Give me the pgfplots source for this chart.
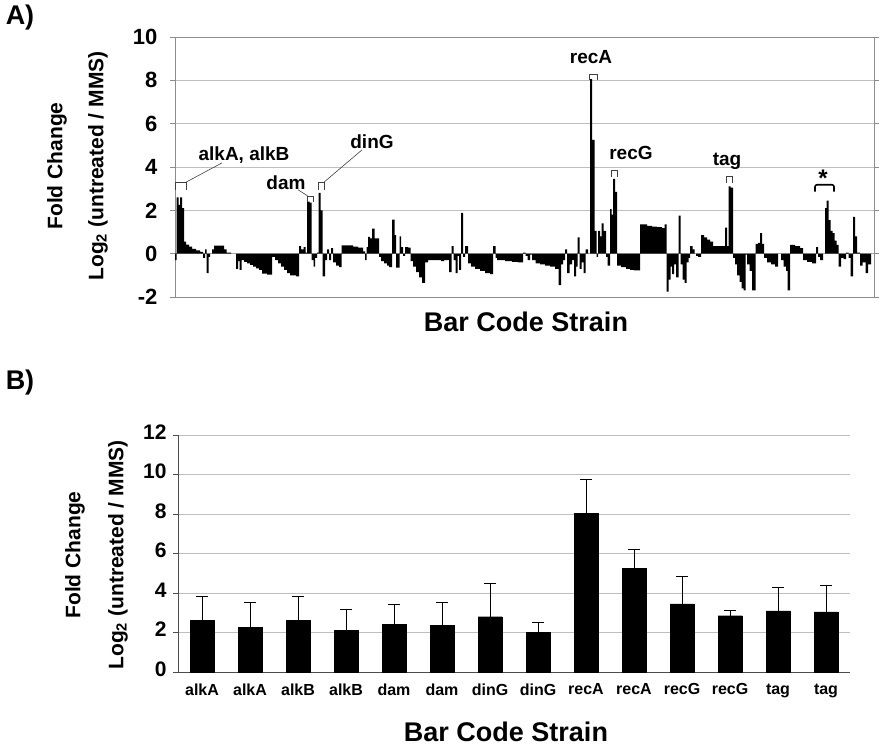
\documentclass[border=0pt]{standalone}
\usepackage{fontspec}
\setmainfont{Liberation Sans}
\usepackage{pgfplots}
\pgfplotsset{compat=1.18}
\definecolor{gridc}{RGB}{190,190,190}
\definecolor{boxc}{RGB}{140,140,140}
\newcommand{\fs}[1]{\fontsize{#1}{#1}\selectfont\bfseries}
\begin{document}
\begin{tikzpicture}[x=1pt,y=1pt]
\path[use as bounding box] (0,0) rectangle (882,753);
% ---------------- Panel A ----------------
\begin{axis}[
  scale only axis, width=699pt, height=260pt,
  at={(175pt,456pt)}, anchor=south west,
  xmin=175, xmax=874, ymin=-2, ymax=10,
  ytick={-2,0,2,4,6,8,10}, xtick=\empty,
  ymajorgrids, grid style={gridc, line width=0.8pt},
  axis line style={boxc, line width=0.8pt},
  tick style={boxc, line width=0.8pt}, tick align=outside, major tick length=5pt,
  /pgf/number format/assume math mode=true,
  yticklabel style={font=\fs{22}, xshift=-9pt},
  clip=false,
]
\addplot[ybar interval, fill=black, draw=none] coordinates {
(175,-0.3) (176.5,2.6) (178.5,2.25) (180,2.6) (182,2.1) (184,0.55) (186,0.42)
(189,0.32) (192,0.22) (196,0.15) (200,0.08) (203,-0.2) (205,0.2) (206.5,-0.9)
(208.5,-0.15) (210,0) (212,0.2) (214,0.37) (224,0.2) (226.5,0.05) (231,0)
(236,-0.7) (238,-0.35) (239.5,-0.75) (241.5,-0.3) (244,-0.38) (247,-0.45)
(250,-0.52) (253,-0.6) (256,-0.68) (259,-0.75) (262,-0.92) (267,-0.97)
(272,-0.15) (275,-0.3) (278,-0.45) (281,-0.6) (284,-0.75) (287,-0.9) (290,-1.0)
(296,-1.05) (299,0.35) (301,0.2) (303.5,0.3) (305.5,0.05) (307,2.4) (309.5,2.35)
(311.5,-0.3) (313.5,-0.6) (315,-0.2) (317,0.05) (318.5,2.8) (320.5,2.0)
(322.5,-1.05) (325,-0.3) (327,0.2) (329,-0.3) (331,0.25) (333,-0.4) (336,-0.55)
(339,-0.62) (341.5,0.38) (347,0.38) (353,0.32) (358,0.28) (363,0.1) (365,-0.3)
(366.5,0.3) (368,0.77) (370,0.7) (372,1.15) (374.5,0.7) (379,-0.15) (381,-0.35)
(384,-0.45) (387,-0.55) (389,-0.62) (392,1.57) (394.5,0.85) (396,-0.65)
(399.5,0.8) (401,0.3) (403,-0.1) (405,0.3) (408,0.28) (410.5,-0.35) (413,-0.6)
(416,-0.85) (419,-1.1) (422,-1.35) (425,-0.4) (428,-0.3) (441,-0.35) (444,-0.3)
(449,-0.85) (451.5,0.35) (453.5,-0.3) (455.5,-0.9) (457.5,-0.1) (459,-0.75)
(461,1.88) (463,-0.15) (465,0.35) (468,-0.45) (471,-0.6) (475,-0.7) (480,-0.8)
(485,-0.9) (490,-0.95) (493,0.35) (495.5,-0.2) (497,-0.3) (505,-0.35)
(512,-0.38) (518,-0.4) (523,0.05) (525.5,-0.1) (527.5,-0.3) (530,-0.05)
(532,-0.3) (535.5,-0.45) (540,-0.5) (545,-0.55) (550,-0.6) (555,-0.7)
(558.5,-1.45) (561,-0.5) (563,-0.3) (565,0.2) (567,-0.9) (569.5,-0.5) (572,-0.3)
(574,-1.05) (576,-0.6) (577.5,0.75) (579.5,-0.7) (581.5,-0.4) (583.5,-0.9)
(585.5,0.2) (588,0) (590,8.05) (592,5.25) (594.5,1.05) (596.5,-0.15) (598,1.05)
(600,0.8) (601.5,1.4) (603.5,1.05) (606,-0.15) (607.5,-0.55) (610,2.05)
(611.5,1.8) (613,3.45) (615,2.85) (617,-0.55) (621,-0.62) (626,-0.7) (630,-0.75)
(634,-0.77) (640,1.35) (647,1.28) (652,1.25) (657,1.22) (662,1.18) (664.5,1.35)
(666.5,-1.75) (668.5,-1.2) (670.5,-0.6) (672,-0.95) (674,-0.5) (676,-1.1)
(678.5,1.75) (680.5,-0.5) (682.5,-1.2) (684.5,-1.35) (686.5,-0.4) (688.5,-0.2)
(690,0.35) (692.5,0.2) (694.5,0) (696,-0.1) (698,-0.15) (701,0.85) (704,0.75)
(707,0.65) (710,0.55) (713,0.35) (725,1.2) (727,0.35) (728.5,3.1) (730.5,3.05)
(733,-0.2) (735,-0.5) (737,-1.0) (739.5,-1.3) (741.5,-1.6) (743.5,-1.7)
(745.5,-0.05) (747,-0.5) (749.5,-0.8) (752,-1.7) (755.5,0.45) (758,0.5)
(760,0.95) (762,0.45) (764,-0.2) (767,-0.4) (771,-0.5) (775,-0.6) (778,0)
(781,-0.3) (783.5,-0.6) (786,-0.8) (787.5,-1.7) (790,0.4) (795,0.35) (800,0.25)
(803,-0.3) (807,-0.38) (812,-0.45) (816,0.3) (818,-0.15) (820,-0.3) (823,0)
(825,2.1) (826.5,2.45) (828.5,1.55) (830.5,1.05) (832.5,0.95) (834.5,0.6)
(836.5,0.4) (838.5,-0.6) (841,-0.2) (843.5,-0.25) (846,0.05) (848.5,-0.2)
(850.5,-1.05) (853,1.7) (855,0.8) (857,0.05) (860,-0.55) (862.5,-0.4)
(865.5,-0.9) (868,-0.5) (871,0) (874,0)
};
% annotations
\node[font=\fs{19}] at (axis cs:244,4.56) {alkA, alkB};
\draw[black!75, line width=0.6pt] (axis cs:175.5,2.95) |- (axis cs:186,3.3) -- (axis cs:186,2.95);
\draw[black!75, line width=0.6pt] (axis cs:186,3.3) -- (axis cs:222,4.19);
\node[font=\fs{19}] at (axis cs:286,3.27) {dam};
\draw[black!75, line width=0.6pt] (axis cs:307,2.4) |- (axis cs:313,2.67) -- (axis cs:313,2.4);
\draw[black!75, line width=0.6pt] (axis cs:298,2.95) -- (axis cs:307.5,2.67);
\node[font=\fs{19}] at (axis cs:372,5.16) {dinG};
\draw[black!75, line width=0.6pt] (axis cs:318,2.95) |- (axis cs:324,3.3) -- (axis cs:324,2.95);
\draw[black!75, line width=0.6pt] (axis cs:324,3.3) -- (axis cs:362,4.79);
\node[font=\fs{19}] at (axis cs:591,9.08) {recA};
\draw[black!75, line width=0.6pt] (axis cs:589.5,8.0) |- (axis cs:597,8.3) -- (axis cs:597,8.0);
\node[font=\fs{19}] at (axis cs:631,4.65) {recG};
\draw[black!75, line width=0.6pt] (axis cs:611,3.55) |- (axis cs:617,3.87) -- (axis cs:617,3.55);
\node[font=\fs{19}] at (axis cs:727,4.24) {tag};
\draw[black!75, line width=0.6pt] (axis cs:726,3.27) |- (axis cs:732,3.55) -- (axis cs:732,3.27);
\node[font=\fs{24}] at (axis cs:823,3.5) {*};
\draw[black, line width=1.6pt, rounded corners=2pt] (axis cs:815,2.86) |- (axis cs:834,3.18) -- (axis cs:834,2.86);
\end{axis}
% ---------------- Panel B ----------------
\begin{axis}[
  scale only axis, width=672pt, height=237pt,
  at={(178pt,81pt)}, anchor=south west,
  xmin=-0.5, xmax=13.5, ymin=0, ymax=12,
  ytick={0,2,4,6,8,10,12},
  xtick={0,...,13},
  xticklabels={alkA,alkA,alkB,alkB,dam,dam,dinG,dinG,recA,recA,recG,recG,tag,tag},
  xtick style={draw=none},
  typeset ticklabels with strut,
  extra x ticks={-0.5,0.5,...,13.5}, extra x tick labels={},
  extra x tick style={tick style={black!70, line width=0.8pt}, major tick length=5pt, tick align=outside, grid=none},
  ymajorgrids, grid style={gridc, line width=0.8pt},
  axis x line*=bottom, axis y line*=left,
  axis line style={black!70, line width=0.8pt, -},
  ytick style={black!70, line width=0.8pt}, tick align=outside, major tick length=5pt,
  /pgf/number format/assume math mode=true,
  yticklabel style={font=\fs{21}, xshift=-3pt},
  xticklabel style={font=\fs{16}, yshift=-3pt},
]
\addplot[ybar, bar width=0.5, fill=black, draw=black,
  error bars/.cd, y dir=plus, y explicit,
  error bar style={black, line width=0.6pt},
  error mark options={rotate=90, black, mark size=6pt, line width=0.6pt}]
  coordinates {
  (0,2.6) +- (0,1.25)
  (1,2.25) +- (0,1.3)
  (2,2.6) +- (0,1.25)
  (3,2.1) +- (0,1.05)
  (4,2.4) +- (0,1.05)
  (5,2.35) +- (0,1.2)
  (6,2.8) +- (0,1.7)
  (7,2.0) +- (0,0.5)
  (8,8.05) +- (0,1.7)
  (9,5.25) +- (0,0.95)
  (10,3.45) +- (0,1.4)
  (11,2.85) +- (0,0.25)
  (12,3.1) +- (0,1.2)
  (13,3.05) +- (0,1.35)
};
\end{axis}
% ---------------- labels ----------------
\node[font=\fs{27}] at (20,735) {A)};
\node[font=\fs{27}] at (20,370) {B)};
\node[rotate=90, font=\fs{21}] at (57,587) {Fold Change};
\node[rotate=90, font=\fs{21}] at (98,587) {Log\textsubscript{2} (untreated / MMS)};
\node[rotate=90, font=\fs{21}] at (75,198) {Fold Change};
\node[rotate=90, font=\fs{21}] at (118,198) {Log\textsubscript{2} (untreated / MMS)};
\node[font=\fs{27}] at (526,431) {Bar Code Strain};
\node[font=\fs{27}] at (506,21) {Bar Code Strain};
\end{tikzpicture}
\end{document}
